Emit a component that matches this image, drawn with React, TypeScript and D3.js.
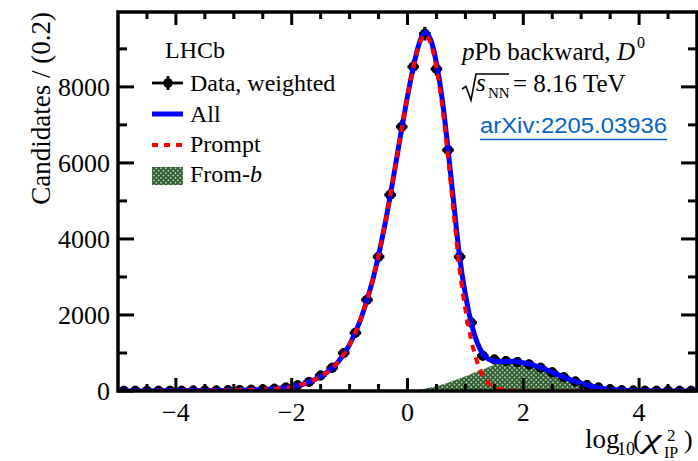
import React from "react";
import * as d3 from "d3";

const W = 698;
const H = 461;

const binCenters = [
  -4.9, -4.7, -4.5, -4.3, -4.1, -3.9, -3.7, -3.5, -3.3, -3.1,
  -2.9, -2.7, -2.5, -2.3, -2.1, -1.9, -1.7, -1.5, -1.3, -1.1,
  -0.9, -0.7, -0.5, -0.3, -0.1, 0.1, 0.3, 0.5, 0.7, 0.9,
  1.1, 1.3, 1.5, 1.7, 1.9, 2.1, 2.3, 2.5, 2.7, 2.9,
  3.1, 3.3, 3.5, 3.7, 3.9, 4.1, 4.3, 4.5, 4.7, 4.9,
];
const dataCounts = [
  5, 5, 5, 6, 6, 8, 10, 12, 15, 20,
  25, 32, 42, 60, 90, 150, 240, 410, 610, 1000,
  1530, 2400, 3530, 5160, 6950, 8530, 9400, 8470, 6340, 3530,
  1800, 930, 830, 790, 760, 700, 610, 490, 360, 250,
  160, 90, 45, 22, 12, 8, 6, 5, 5, 5,
];
const dataErrors = [
  20, 20, 20, 20, 20, 20, 20, 20, 22, 24,
  26, 28, 30, 35, 40, 45, 55, 65, 75, 90,
  110, 130, 150, 160, 170, 180, 180, 180, 170, 150,
  110, 90, 85, 85, 80, 80, 75, 70, 60, 50,
  45, 35, 30, 25, 22, 20, 20, 20, 20, 20,
];

const curveX = [
  -5, -4.5, -4, -3.5, -3, -2.75, -2.5, -2.25, -2, -1.8,
  -1.6, -1.4, -1.2, -1.0, -0.8, -0.6, -0.4, -0.2, -0.1, 0,
  0.1, 0.2, 0.3, 0.4, 0.5, 0.6, 0.7, 0.8, 0.9, 1.0,
  1.1, 1.2, 1.3, 1.4, 1.5, 1.6, 1.8, 2.0, 2.2, 2.4,
  2.6, 2.8, 3.0, 3.2, 3.4, 3.6, 3.8, 4.0, 4.5, 5,
];
const promptCurve = [
  2, 3, 5, 10, 18, 28, 42, 65, 110, 180,
  300, 480, 760, 1220, 1920, 2920, 4300, 6000, 6900, 7750,
  8500, 9100, 9370, 9150, 8500, 7500, 6150, 4650, 3200, 2150,
  1350, 780, 420, 210, 100, 45, 10, 2, 0, 0,
  0, 0, 0, 0, 0, 0, 0, 0, 0, 0,
];
const fromBCurve = [
  0, 0, 0, 0, 0, 0, 0, 0, 0, 0,
  0, 0, 0, 0, 0, 0, 0, 0, 0, 0,
  15, 35, 60, 90, 125, 170, 220, 275, 330, 390,
  450, 510, 560, 630, 690, 730, 770, 740, 670, 560,
  430, 305, 200, 120, 62, 30, 12, 5, 0, 0,
];

const yMajorTicks = [0, 2000, 4000, 6000, 8000];
const yMinorTicks = [1000, 3000, 5000, 7000, 9000];
const xMajorTicks = [-4, -2, 0, 2, 4];
const xMinorTicks = [-4.5, -3.5, -3, -2.5, -1.5, -1, -0.5, 0.5, 1, 1.5, 2.5, 3, 3.5, 4.5];

const SERIF = '"Liberation Serif", "Times New Roman", Times, serif';

export default function App() {
  const left = 118, right = 697, top = 12, bottom = 391;
  const x = d3.scaleLinear().domain([-5, 5]).range([left, right]);
  const y = d3.scaleLinear().domain([0, 9970]).range([bottom, top]);

  const curveRows = curveX.map((cx, i) => ({
    x: cx,
    prompt: promptCurve[i],
    fromB: fromBCurve[i],
    all: promptCurve[i] + fromBCurve[i],
  }));

  const line = (key: "prompt" | "all") =>
    d3
      .line<any>()
      .x((d) => x(d.x))
      .y((d) => y(d[key]))
      .curve(d3.curveMonotoneX)(curveRows) || "";

  const area =
    d3
      .area<any>()
      .x((d) => x(d.x))
      .y0(y(0))
      .y1((d) => y(d.fromB))
      .curve(d3.curveMonotoneX)(curveRows) || "";

  const halfBin = (x(0.1) - x(0)) as number;
  const tickW = 3;

  return (
    <svg
      width={W}
      height={H}
      viewBox={`0 0 ${W} ${H}`}
      style={{ position: "absolute", left: 0, top: 0, background: "#fff", fontFamily: SERIF }}
    >
      <defs>
        <pattern id="dots" width="3.4" height="3.4" patternUnits="userSpaceOnUse" patternTransform="rotate(45)">
          <rect width="3.4" height="3.4" fill="#2f5f2f" />
          <circle cx="1.7" cy="1.7" r="0.85" fill="#ffffff" opacity="0.85" />
        </pattern>
        <clipPath id="plotClip">
          <rect x={left} y={top} width={right - left} height={bottom - top} />
        </clipPath>
      </defs>
      <rect x={0} y={0} width={W} height={H} fill="#fff" />

      <g clipPath="url(#plotClip)">
        <path d={area} fill="url(#dots)" />
        {binCenters.map((c, i) => {
          const cx = x(c);
          const cy = y(dataCounts[i]);
          const e = y(dataCounts[i] - dataErrors[i]) - cy;
          return (
            <g key={i} stroke="#000" strokeWidth={3.2}>
              <line x1={cx - halfBin} x2={cx + halfBin} y1={cy} y2={cy} />
              <line x1={cx} x2={cx} y1={cy - Math.max(e, 5)} y2={cy + Math.max(e, 5)} />
              <circle cx={cx} cy={cy} r={5} fill="#000" stroke="none" />
            </g>
          );
        })}
        <path d={line("all")} fill="none" stroke="#0000ff" strokeWidth={5} />
        <path d={line("prompt")} fill="none" stroke="#ff0000" strokeWidth={4} strokeDasharray="7,6" />
      </g>

      {/* frame */}
      <rect x={left} y={top} width={right - left} height={bottom - top} fill="none" stroke="#000" strokeWidth={3.5} />
      {/* ticks */}
      <g stroke="#000" strokeWidth={tickW}>
        {yMajorTicks.map((t) => (
          <g key={"ym" + t}>
            <line x1={left} x2={left + 16} y1={y(t)} y2={y(t)} />
            <line x1={right} x2={right - 16} y1={y(t)} y2={y(t)} />
          </g>
        ))}
        {yMinorTicks.map((t) => (
          <g key={"yn" + t}>
            <line x1={left} x2={left + 9} y1={y(t)} y2={y(t)} />
            <line x1={right} x2={right - 9} y1={y(t)} y2={y(t)} />
          </g>
        ))}
        {xMajorTicks.map((t) => (
          <g key={"xm" + t}>
            <line x1={x(t)} x2={x(t)} y1={bottom} y2={bottom - 13} />
            <line x1={x(t)} x2={x(t)} y1={top} y2={top + 13} />
          </g>
        ))}
        {xMinorTicks.map((t) => (
          <g key={"xn" + t}>
            <line x1={x(t)} x2={x(t)} y1={bottom} y2={bottom - 7} />
            <line x1={x(t)} x2={x(t)} y1={top} y2={top + 7} />
          </g>
        ))}
      </g>

      {/* tick labels */}
      <g fontSize={26} fill="#000">
        {yMajorTicks.map((t) => (
          <text key={"yl" + t} x={110} y={y(t) + 9} textAnchor="end">
            {String(t)}
          </text>
        ))}
        {xMajorTicks.map((t) => (
          <text key={"xl" + t} x={x(t)} y={421} textAnchor="middle">
            {t < 0 ? "\u2212" + Math.abs(t) : String(t)}
          </text>
        ))}
      </g>

      {/* axis titles */}
      <text transform="translate(50,12) rotate(-90)" textAnchor="end" fontSize={27}>
        Candidates / (0.2)
      </text>
      <g fill="#000">
        <text fontSize={27}>
          <tspan x={585} y={448}>log</tspan>
          <tspan x={617} y={455} fontSize={18}>10</tspan>
          <tspan x={633} y={448} fontSize={26}>(</tspan>
        </text>
        <text transform="translate(643,448) scale(1.55,1)" fontSize={27} fontStyle="italic">χ</text>
        <text fontSize={17}>
          <tspan x={667} y={441}>2</tspan>
          <tspan x={664} y={458} fontSize={16}>IP</tspan>
          <tspan x={684} y={448} fontSize={26}>)</tspan>
        </text>
      </g>

      {/* legend */}
      <g fontSize={24}>
        <text x={165} y={58}>LHCb</text>
        <g stroke="#000" strokeWidth={2.8}>
          <line x1={152} x2={183} y1={83} y2={83} />
          <line x1={168} x2={168} y1={76} y2={90} />
        </g>
        <circle cx={168} cy={83} r={4.8} fill="#000" />
        <text x={190} y={91}>Data, weighted</text>
        <line x1={152} x2={183} y1={114} y2={114} stroke="#0000ff" strokeWidth={5} />
        <text x={190} y={122}>All</text>
        <line x1={152} x2={183} y1={145} y2={145} stroke="#ff0000" strokeWidth={4} strokeDasharray="6,6" />
        <text x={190} y={152}>Prompt</text>
        <rect x={152} y={167} width={31} height={18} fill="url(#dots)" />
        <text x={190} y={182}>
          From-<tspan fontStyle="italic">b</tspan>
        </text>
      </g>

      {/* top right labels */}
      <g fontSize={25}>
        <text x={462} y={60}>
          <tspan fontStyle="italic">p</tspan>Pb backward,
        </text>
        <text x={617} y={60} fontStyle="italic">D</text>
        <text x={637} y={48} fontSize={16}>0</text>
        <path d="M462,89 L466,86.5 L471,100 L476,74 L509,74" fill="none" stroke="#000" strokeWidth={1.6} />
        <text x={476} y={91} fontStyle="italic">s</text>
        <text x={488} y={98} fontSize={15}>NN</text>
        <text x={513} y={92}>= 8.16 TeV</text>
      </g>
      <text
        x={480}
        y={133}
        fontFamily='"Liberation Sans", Arial, sans-serif'
        fontSize={22}
        fill="#0563C1"
        textLength={187}
        lengthAdjust="spacingAndGlyphs"
      >
        arXiv:2205.03936
      </text>
      <line x1={480} x2={667} y1={139.5} y2={139.5} stroke="#0563C1" strokeWidth={1.5} />
    </svg>
  );
}
